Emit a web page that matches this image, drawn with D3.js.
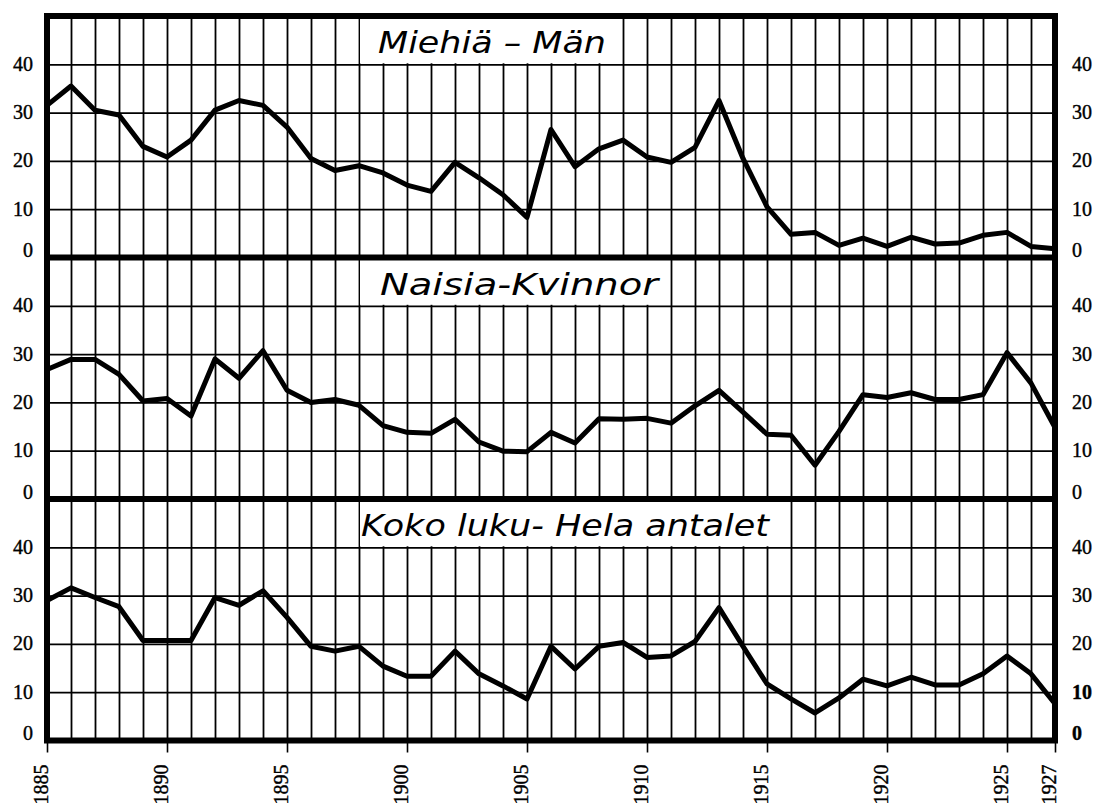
<!DOCTYPE html>
<html>
<head>
<meta charset="utf-8">
<script src="https://cdn.jsdelivr.net/npm/d3@7"></script>
<style>
  body { margin: 0; background: #fff; }
  svg { display: block; }
</style>
</head>
<body>
<div id="container"></div>
<script>
// DATA
const years = [1885, 1886, 1887, 1888, 1889, 1890, 1891, 1892, 1893, 1894,
  1895, 1896, 1897, 1898, 1899, 1900, 1901, 1902, 1903, 1904,
  1905, 1906, 1907, 1908, 1909, 1910, 1911, 1912, 1913, 1914,
  1915, 1916, 1917, 1918, 1919, 1920, 1921, 1922, 1923, 1924,
  1925, 1926, 1927];

const men = [31.5, 35.5, 30.5, 29.5, 23, 20.8, 24.3, 30.5, 32.5, 31.5,
  27, 20.5, 18, 19, 17.5, 15, 13.7, 19.7, 16.5, 13,
  8.3, 26.5, 18.8, 22.5, 24.3, 20.8, 19.7, 22.8, 32.5, 20.5,
  10.5, 4.8, 5.2, 2.5, 4, 2.3, 4.2, 2.8, 3, 4.6,
  5.2, 2.3, 1.8];

const women = [26.8, 28.9, 28.9, 25.8, 20.3, 20.8, 17.2, 29, 25, 30.7,
  22.5, 20, 20.6, 19.4, 15.2, 13.8, 13.6, 16.5, 11.8, 9.9,
  9.8, 13.8, 11.6, 16.6, 16.5, 16.7, 15.7, 19.3, 22.5, 18,
  13.4, 13.2, 7, 14, 21.6, 21, 22, 20.6, 20.6, 21.6,
  30.3, 24, 14.8];

const total = [29, 31.6, 29.6, 27.7, 20.7, 20.7, 20.7, 29.6, 28, 31,
  25.5, 19.5, 18.5, 19.5, 15.4, 13.3, 13.3, 18.5, 13.8, 11.3,
  8.6, 19.5, 14.8, 19.5, 20.3, 17.2, 17.5, 20.5, 27.5, 19.5,
  11.7, 8.6, 5.7, 8.8, 12.7, 11.3, 13.1, 11.5, 11.5, 13.8,
  17.5, 13.8, 7.6];

const titles = ["Miehiä – Män", "Naisia-Kvinnor", "Koko luku- Hela antalet"];
const titleBoxEnd = [1909, 1911, 1916];   // year where the white label box stops
const yTicks = [0, 10, 20, 30, 40];
const xTickYears = [1885, 1890, 1895, 1900, 1905, 1910, 1915, 1920, 1925, 1927];

// LAYOUT
const width = 1098, height = 808;
const plotLeft = 47, plotRight = 1055;
const panelTop = 16, panelH = 241.5;
const numFont = "'Liberation Serif', 'Times New Roman', serif";

const svg = d3.select("#container").append("svg")
  .attr("width", width)
  .attr("height", height);

const xScale = d3.scaleLinear()
  .domain([years[0], years[years.length - 1]])
  .range([plotLeft, plotRight]);

const series = [men, women, total];

series.forEach((vals, i) => {
  const top = panelTop + i * panelH;
  const bottom = top + panelH;

  const yScale = d3.scaleLinear().domain([0, 50]).range([bottom, top]);

  const g = svg.append("g");

  // vertical grid, one line per year
  g.append("g")
    .attr("transform", `translate(0,${bottom})`)
    .call(d3.axisBottom(xScale).tickValues(years).tickSize(-panelH).tickFormat(""))
    .call(a => a.select(".domain").remove())
    .selectAll("line")
    .attr("stroke", "#000")
    .attr("stroke-width", 1.8);

  // horizontal grid
  g.append("g")
    .attr("transform", `translate(${plotLeft},0)`)
    .call(d3.axisLeft(yScale).tickValues(yTicks.slice(1)).tickSize(-(plotRight - plotLeft)).tickFormat(""))
    .call(a => a.select(".domain").remove())
    .selectAll("line")
    .attr("stroke", "#000")
    .attr("stroke-width", 1.8);

  // title box
  const bx0 = xScale(1898), bx1 = xScale(titleBoxEnd[i]);
  g.append("rect")
    .attr("x", bx0 + 1)
    .attr("y", top)
    .attr("width", bx1 - bx0 - 2)
    .attr("height", yScale(40) - top - 1)
    .attr("fill", "#fff");

  const titleStart = [19, 21, 2];
  const titleWidth = [228, 278, 408];
  g.append("text")
    .attr("x", bx0 + titleStart[i])
    .attr("y", top + 37)
    .attr("textLength", titleWidth[i])
    .attr("lengthAdjust", "spacingAndGlyphs")
    .style("font-family", "'DejaVu Sans', sans-serif")
    .style("font-style", "italic")
    .style("font-size", "31px")
    .attr("fill", "#000")
    .text(titles[i]);

  // the line
  const line = d3.line()
    .x((d, j) => xScale(years[j]))
    .y(d => yScale(d));

  g.append("path")
    .datum(vals)
    .attr("d", line)
    .attr("fill", "none")
    .attr("stroke", "#000")
    .attr("stroke-width", 5)
    .attr("stroke-linejoin", "round");

  // y labels left and right
  const leftAxis = g.append("g")
    .attr("transform", "translate(33,0)")
    .call(d3.axisLeft(yScale).tickValues(yTicks).tickSize(0).tickPadding(0));
  const rightAxis = g.append("g")
    .attr("transform", "translate(1072,0)")
    .call(d3.axisRight(yScale).tickValues(yTicks).tickSize(0).tickPadding(0));
  [leftAxis, rightAxis].forEach(a => {
    a.select(".domain").remove();
    a.selectAll("text")
      .attr("dy", d => d === 0 ? "-0.05em" : "0.3em")
      .style("font-family", numFont)
      .style("font-size", "20px")
      .attr("fill", "#000")
      .attr("stroke", "#000")
      .attr("stroke-width", 0.4);
  });
  if (i === 2) {
    rightAxis.selectAll("text")
      .filter(d => d <= 10)
      .style("font-weight", "bold");
  }
});

// x axis with rotated year labels
const xAxisG = svg.append("g")
  .attr("transform", `translate(0,${panelTop + 3 * panelH})`)
  .call(d3.axisBottom(xScale).tickValues(xTickYears).tickSize(12).tickFormat(d3.format("d")));
xAxisG.select(".domain").remove();
xAxisG.selectAll("line").attr("stroke", "#000").attr("stroke-width", 1.6);
xAxisG.selectAll("text")
  .attr("transform", "rotate(-90)")
  .attr("text-anchor", "end")
  .attr("x", -24)
  .attr("y", 0)
  .attr("dy", "0")
  .style("font-family", numFont)
  .style("font-size", "20px")
  .attr("fill", "#000")
  .attr("stroke", "#000")
  .attr("stroke-width", 0.4);

// heavy frame and panel separators
svg.append("rect")
  .attr("x", plotLeft)
  .attr("y", panelTop)
  .attr("width", plotRight - plotLeft)
  .attr("height", 3 * panelH)
  .attr("fill", "none")
  .attr("stroke", "#000")
  .attr("stroke-width", 6);

svg.selectAll(".sep")
  .data([1, 2])
  .join("line")
  .attr("class", "sep")
  .attr("x1", plotLeft)
  .attr("x2", plotRight)
  .attr("y1", d => panelTop + d * panelH)
  .attr("y2", d => panelTop + d * panelH)
  .attr("stroke", "#000")
  .attr("stroke-width", 6);
</script>
</body>
</html>
